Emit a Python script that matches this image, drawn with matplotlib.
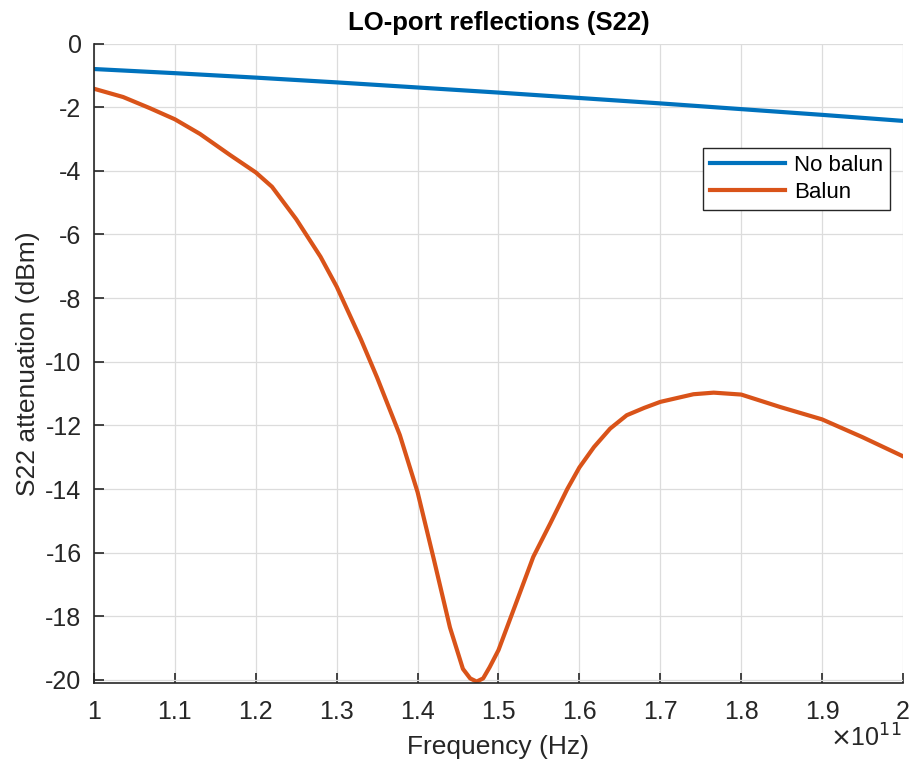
import numpy as np
import matplotlib
matplotlib.use('Agg')
from matplotlib import pyplot as plt

# Frequency axis in units of 1e11 Hz
freq_blue = [1.00, 1.10, 1.20, 1.30, 1.40, 1.50, 1.60, 1.70, 1.80, 1.90, 2.00]
no_balun = [-0.80, -0.93, -1.07, -1.22, -1.38, -1.54, -1.71, -1.88, -2.06, -2.24, -2.43]

freq_orange = [1.00, 1.036, 1.069, 1.10, 1.131, 1.168, 1.20, 1.22, 1.25, 1.28, 1.30,
               1.33, 1.35, 1.378, 1.40, 1.42, 1.44, 1.456, 1.465, 1.473, 1.481, 1.489,
               1.50, 1.52, 1.543, 1.564, 1.585, 1.60, 1.618, 1.638, 1.6585, 1.68, 1.70,
               1.741, 1.766, 1.80, 1.848, 1.90, 1.95, 2.00]
balun = [-1.42, -1.68, -2.03, -2.38, -2.84, -3.50, -4.05, -4.50, -5.52, -6.70, -7.64,
         -9.30, -10.50, -12.30, -14.10, -16.20, -18.35, -19.65, -19.95, -20.05, -19.95, -19.60,
         -19.06, -17.70, -16.13, -15.08, -14.00, -13.32, -12.68, -12.10, -11.68, -11.45, -11.26,
         -11.02, -10.97, -11.03, -11.42, -11.81, -12.37, -12.97]

xticks = [1, 1.1, 1.2, 1.3, 1.4, 1.5, 1.6, 1.7, 1.8, 1.9, 2]
yticks = list(range(-20, 1, 2))

plt.rcParams['font.family'] = ['Liberation Sans', 'DejaVu Sans']

fig = plt.figure(figsize=(9.11, 7.63), dpi=100)
ax = fig.add_axes([0.1032, 0.1042, 0.888, 0.8387])

ax.plot(freq_blue, no_balun, color='#0072BD', lw=3, label='No balun')
ax.plot(freq_orange, balun, color='#D95319', lw=3, label='Balun')

ax.set_xlim(1, 2)
ax.set_ylim(-20.11, 0)
ax.set_xticks(xticks)
ax.set_xticklabels(['%g' % t for t in xticks])
ax.set_yticks(yticks)
ax.set_yticklabels(['%g' % t for t in yticks])

ax.grid(True, color='#dcdcdc', lw=0.9)
ax.set_axisbelow(True)
for side in ('top', 'right'):
    ax.spines[side].set_visible(False)
for side in ('left', 'bottom'):
    ax.spines[side].set_color('#262626')
    ax.spines[side].set_linewidth(1.2)

ax.tick_params(direction='in', length=7, width=1.2, colors='#262626',
               labelsize=18, labelcolor='#262626')
ax.tick_params(axis='x', pad=12)
ax.tick_params(axis='y', pad=9)

ax.set_title('LO-port reflections (S22)', fontsize=18.5, fontweight='bold', pad=10)
ax.set_xlabel('Frequency (Hz)', fontsize=19, color='#262626', labelpad=8)
ax.set_ylabel('S22 attenuation (dBm)', fontsize=19, color='#262626', labelpad=4)

# multiplier for the frequency axis
ax.text(0.998, -0.064, r'$\times$10$^{11}$', transform=ax.transAxes,
        ha='right', va='top', fontsize=18, color='#262626')

leg = ax.legend(loc='upper right', bbox_to_anchor=(0.984, 0.837), borderaxespad=0,
                fontsize=16, fancybox=False, framealpha=1, edgecolor='#262626',
                handlelength=3.4, handletextpad=0.4, borderpad=0.3, labelspacing=0.3)
leg.get_frame().set_linewidth(1.0)

fig.savefig('out.png', dpi=100)
